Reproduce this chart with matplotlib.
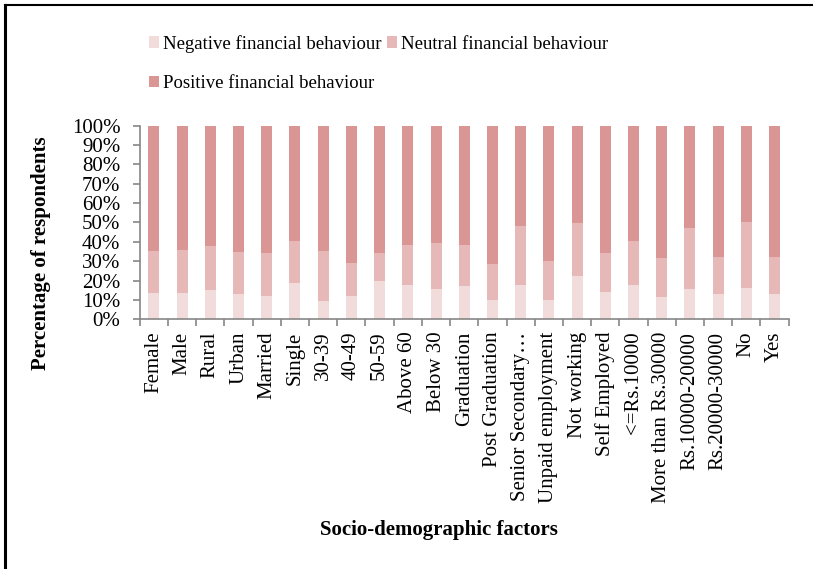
import numpy as np
import matplotlib
matplotlib.use('Agg')
import matplotlib.pyplot as plt
from matplotlib.lines import Line2D

# categorias e valores (% de respondentes)
categorias = ['Female', 'Male', 'Rural', 'Urban', 'Married', 'Single',
              '30-39', '40-49', '50-59', 'Above 60', 'Below 30',
              'Graduation', 'Post Graduation', 'Senior Secondary…',
              'Unpaid employment', 'Not working', 'Self Employed',
              '<=Rs.10000', 'More than Rs.30000', 'Rs.10000-20000',
              'Rs.20000-30000', 'No', 'Yes']
negativo = [13.8, 13.6, 15.3, 12.8, 11.9, 18.8, 9.5, 11.9, 19.8, 17.8,
            15.5, 17.4, 9.7, 17.9, 9.7, 22.1, 14.1, 17.9, 11.7, 15.7,
            12.8, 15.9, 13.1]
neutro_acum = [35.3, 36.0, 37.6, 34.5, 34.0, 40.5, 35.0, 29.1, 34.0, 38.3,
               39.5, 38.5, 28.3, 48.3, 30.3, 49.5, 34.0, 40.2, 31.4, 46.9,
               32.4, 50.2, 31.9]

neg = np.array(negativo)
neu = np.array(neutro_acum) - neg
pos = 100 - neg - neu

plt.rcParams['font.family'] = 'Liberation Serif'
cor_eixo = '#868686'

fig = plt.figure(figsize=(8.13, 5.69), dpi=100)
ax = fig.add_axes([0.172, 0.439, 0.798, 0.340])

x = np.arange(len(categorias))
w = 0.39
b1 = ax.bar(x, neg, w, color='#F2DCDB', label='Negative financial behaviour')
b2 = ax.bar(x, neu, w, bottom=neg, color='#E6B9B8', label='Neutral financial behaviour')
b3 = ax.bar(x, pos, w, bottom=neg + neu, color='#D99694', label='Positive financial behaviour')

ax.set_xlim(-0.5, len(categorias) - 0.5)
ax.set_ylim(0, 100)
ax.set_yticks(np.arange(0, 101, 10))
ax.set_yticklabels(['%d%%' % v for v in range(0, 101, 10)], fontsize=15)
ax.set_xticks(x)
ax.set_xticklabels(categorias, rotation=90, fontsize=15)
ax.tick_params(axis='x', length=0, pad=9)
ax.set_xticks(np.arange(-0.5, len(categorias), 1), minor=True)
ax.tick_params(axis='x', which='minor', length=5, color=cor_eixo, width=1.2)
ax.tick_params(axis='y', length=5, color=cor_eixo, width=1.2, pad=9)

for s in ['top', 'right']:
    ax.spines[s].set_visible(False)
for s in ['left', 'bottom']:
    ax.spines[s].set_color(cor_eixo)
    ax.spines[s].set_linewidth(1.2)

ax.set_ylabel('Percentage of respondents', fontsize=15, fontweight='bold')
ax.yaxis.set_label_coords(-0.137, 0.34)
fig.text(0.54, 0.068, 'Socio-demographic factors', fontsize=15,
         fontweight='bold', ha='center', va='center')

fig.legend([b1, b3, b2],
           ['Negative financial behaviour', 'Positive financial behaviour',
            'Neutral financial behaviour'],
           ncol=2, loc='upper left', bbox_to_anchor=(0.174, 0.952),
           frameon=False, fontsize=13.5, handlelength=0.55, handleheight=0.55,
           handletextpad=0.2, columnspacing=0.3, labelspacing=1.2,
           borderaxespad=0)

# moldura (topo e esquerda)
fig.add_artist(Line2D([0.006, 1.0], [0.991, 0.991], color='black', lw=1.5,
                      transform=fig.transFigure))
fig.add_artist(Line2D([0.006, 0.006], [0.0, 0.991], color='black', lw=2.2,
                      transform=fig.transFigure))

fig.savefig('out.png', dpi=100, facecolor='white')
